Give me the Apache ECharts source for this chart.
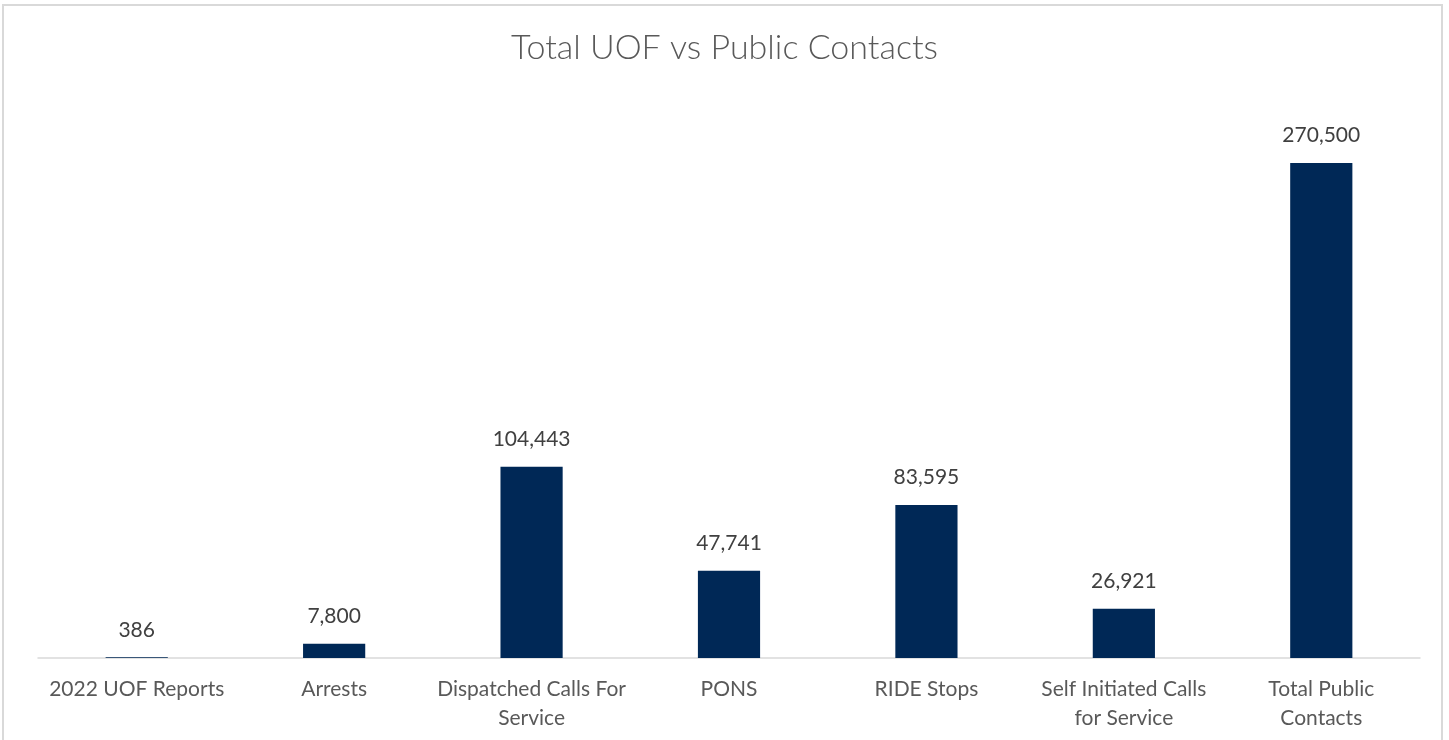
<!DOCTYPE html>
<html>
<head>
<meta charset="utf-8">
<script src="https://cdn.jsdelivr.net/npm/echarts@6/dist/echarts.min.js"></script>
<style>
  html, body { margin: 0; padding: 0; background: #fff; }
  #frame { position: absolute; left: 2px; top: 4px; width: 1441px; height: 800px; border: 2px solid #d9d9d9; box-sizing: border-box; }
  #chart { position: absolute; left: 0; top: 0; width: 1449px; height: 740px; }
</style>
</head>
<body>
<div id="frame"></div>
<div id="chart"></div>
<script>
const categories = ['2022 UOF Reports', 'Arrests', 'Dispatched Calls For\nService', 'PONS', 'RIDE Stops', 'Self Initiated Calls\nfor Service', 'Total Public\nContacts'];
const values = [386, 7800, 104443, 47741, 83595, 26921, 270500];

let chart = echarts.init(document.getElementById('chart'));
const option = {
    animation: false,
    title: {
        text: 'Total UOF vs Public Contacts',
        left: 'center',
        top: 26,
        textStyle: {
            fontFamily: 'Lato',
            fontWeight: 300,
            fontSize: 34,
            color: '#595959'
        }
    },
    grid: {
        top: 109,
        left: 38,
        right: 29,
        bottom: 82
    },
    xAxis: {
        type: 'category',
        data: categories,
        axisLine: {lineStyle: {color: '#d9d9d9', width: 1.5}},
        axisTick: {show: false},
        axisLabel: {
            interval: 0,
            margin: 17,
            fontFamily: 'Lato',
            fontSize: 21,
            lineHeight: 29,
            color: '#595959'
        }
    },
    yAxis: {
        type: 'value',
        min: 0,
        max: 300000,
        show: false,
        splitLine: {show: false}
    },
    series: [
        {
            type: 'bar',
            data: values,
            barWidth: '31.5%',
            itemStyle: {color: '#002856'},
            label: {
                show: true,
                position: 'top',
                distance: 17,
                fontFamily: 'Lato',
                fontSize: 21,
                color: '#404040',
                formatter: p => p.value.toLocaleString('en-US')
            }
        }
    ]
};
chart.setOption(option);
window.addEventListener('resize', function () {
    chart.resize();
});
</script>
</body>
</html>
